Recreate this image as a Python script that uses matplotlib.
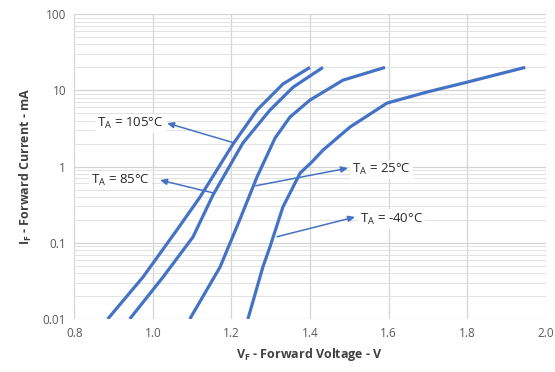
import matplotlib
matplotlib.use("Agg")
import matplotlib.pyplot as plt
from matplotlib.patches import Rectangle
from matplotlib.ticker import LogLocator, NullFormatter

plt.rcParams['font.family'] = ['Open Sans', 'DejaVu Sans']
plt.rcParams['mathtext.fontset'] = 'custom'
plt.rcParams['mathtext.rm'] = 'Open Sans'
plt.rcParams['mathtext.bf'] = 'Open Sans:bold'

# ---- data ----
v_105 = [0.885, 0.975, 1.061, 1.120, 1.204, 1.265, 1.331, 1.400]
i_105 = [0.010, 0.0356, 0.147, 0.398, 1.97, 5.5, 12.1, 20.0]

v_85 = [0.941, 1.026, 1.102, 1.153, 1.229, 1.298, 1.357, 1.433]
i_85 = [0.010, 0.0356, 0.119, 0.423, 2.03, 5.5, 11.0, 20.0]

v_25 = [1.094, 1.171, 1.222, 1.265, 1.311, 1.349, 1.400, 1.484, 1.591]
i_25 = [0.010, 0.048, 0.205, 0.728, 2.36, 4.46, 7.45, 13.6, 20.0]

v_m40 = [1.242, 1.280, 1.298, 1.331, 1.375, 1.405, 1.433, 1.502, 1.596, 1.698, 1.800, 1.948]
i_m40 = [0.010, 0.048, 0.088, 0.294, 0.822, 1.15, 1.64, 3.30, 6.8, 9.5, 12.8, 20.0]

labels = ["T$_\\mathrm{A}$ = 105°C", "T$_\\mathrm{A}$ = 85°C",
          "T$_\\mathrm{A}$ = 25°C", "T$_\\mathrm{A}$ = -40°C"]

x_ticks = [0.8, 1.0, 1.2, 1.4, 1.6, 1.8, 2.0]
x_tick_labels = ["0.8", "1.0", "1.2", "1.4", "1.6", "1.8", "2.0"]
y_ticks = [0.01, 0.1, 1, 10, 100]
y_tick_labels = ["0.01", "0.1", "1", "10", "100"]

BLUE = "#4472C4"
GRID = "#d4d4d4"
TICK = "#595959"

fig = plt.figure(figsize=(5.55, 3.72), dpi=100)
ax = fig.add_axes([0.134, 0.1425, 0.849, 0.8195])

ax.set_yscale('log')
ax.set_xlim(0.8, 2.0)
ax.set_ylim(0.01, 100)

for v, i in [(v_105, i_105), (v_85, i_85), (v_25, i_25), (v_m40, i_m40)]:
    ax.plot(v, i, color=BLUE, lw=2.3, solid_capstyle='butt',
            solid_joinstyle='round', zorder=3)

ax.set_xticks(x_ticks)
ax.set_xticklabels(x_tick_labels)
ax.set_yticks(y_ticks)
ax.set_yticklabels(y_tick_labels)
ax.yaxis.set_minor_locator(LogLocator(base=10, subs=[2, 3, 4, 5, 6, 7, 8, 9]))
ax.yaxis.set_minor_formatter(NullFormatter())

ax.grid(True, which='major', axis='both', color=GRID, lw=0.9, zorder=0)
ax.grid(True, which='minor', axis='y', color="#e2e2e2", lw=0.7, zorder=0)
ax.tick_params(axis='both', which='both', length=0, colors=TICK, labelsize=8.5, pad=6)
for s in ax.spines.values():
    s.set_visible(False)

ax.set_xlabel("V$_\\mathbf{F}$ - Forward Voltage - V", fontsize=9, fontweight='bold',
              color="#404040", labelpad=4)
ax.set_ylabel("I$_\\mathbf{F}$ - Forward Current - mA", fontsize=9, fontweight='bold',
              color="#404040", labelpad=6)

# blank box near top-left (as in reference)
ax.add_patch(Rectangle((0.02, 0.889), 0.238, 0.065, transform=ax.transAxes,
                       facecolor='white', edgecolor='none', zorder=1))

# annotations: text, arrow head (at label), arrow tail (on curve)
ann = [
    (labels[0], (1.027, 3.7), 'right', (1.036, 3.72), (1.206, 2.05)),
    (labels[1], (0.993, 0.66), 'right', (1.018, 0.665), (1.155, 0.449)),
    (labels[2], (1.508, 0.92), 'left', (1.497, 0.955), (1.262, 0.56)),
    (labels[3], (1.527, 0.205), 'left', (1.515, 0.218), (1.316, 0.12)),
]
for txt, pos, ha, head, tail in ann:
    ax.text(pos[0], pos[1], txt, ha=ha, va='center', fontsize=9.5, color="#262626",
            zorder=4, bbox=dict(facecolor='white', edgecolor='none', pad=1.5))
    ax.annotate('', xy=head, xytext=tail,
                arrowprops=dict(arrowstyle='-|>,head_length=0.4,head_width=0.18',
                                color=BLUE, lw=1.1, shrinkA=0, shrinkB=0),
                zorder=4)

fig.savefig("out.png", dpi=100)
